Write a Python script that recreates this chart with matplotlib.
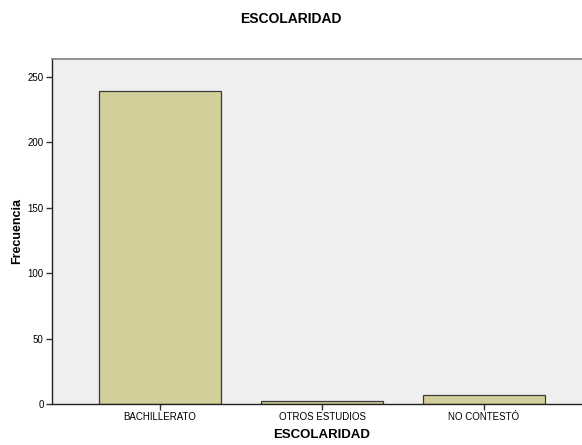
import matplotlib
matplotlib.use("Agg")
import matplotlib.pyplot as plt

categories = ["BACHILLERATO", "OTROS ESTUDIOS", "NO CONTESTÓ"]
values = [239, 2, 7]
yticks = [0, 50, 100, 150, 200, 250]

plt.rcParams['font.family'] = ['Liberation Sans', 'DejaVu Sans']

W, H = 582, 445
fig = plt.figure(figsize=(W / 100, H / 100), dpi=100)
ax = fig.add_axes([52 / W, 1 - 404 / H, (592 - 52) / W, (404 - 59) / H])
ax.set_facecolor("#EFEFEF")
x = list(range(len(categories)))
ax.bar(x, values, width=0.75, color="#D3CF9B", edgecolor="#3a3a3a", linewidth=0.9, zorder=2)
ax.set_xlim(-0.667, 2.667)
ax.set_ylim(0, 263.5)
ax.set_xticks(x)
ax.set_xticklabels(categories, fontsize=7)
ax.set_yticks(yticks)
ax.set_yticklabels([str(v) for v in yticks], fontsize=7)
ax.tick_params(axis='both', length=4, width=1, color="#333333", pad=2)
for s in ["left", "bottom"]:
    ax.spines[s].set_color("#222222")
    ax.spines[s].set_linewidth(1.0)
ax.spines["top"].set_color("#808080")
ax.spines["top"].set_linewidth(1.2)
ax.spines["right"].set_visible(False)
ax.set_xlabel("ESCOLARIDAD", fontsize=9.5, fontweight="bold", labelpad=5)
ax.set_ylabel("Frecuencia", fontsize=9, fontweight="bold", labelpad=3)
fig.text(291 / W, 1 - 19 / H, "ESCOLARIDAD", ha="center", va="center", fontsize=10, fontweight="bold")
fig.savefig("out.png", dpi=100)
